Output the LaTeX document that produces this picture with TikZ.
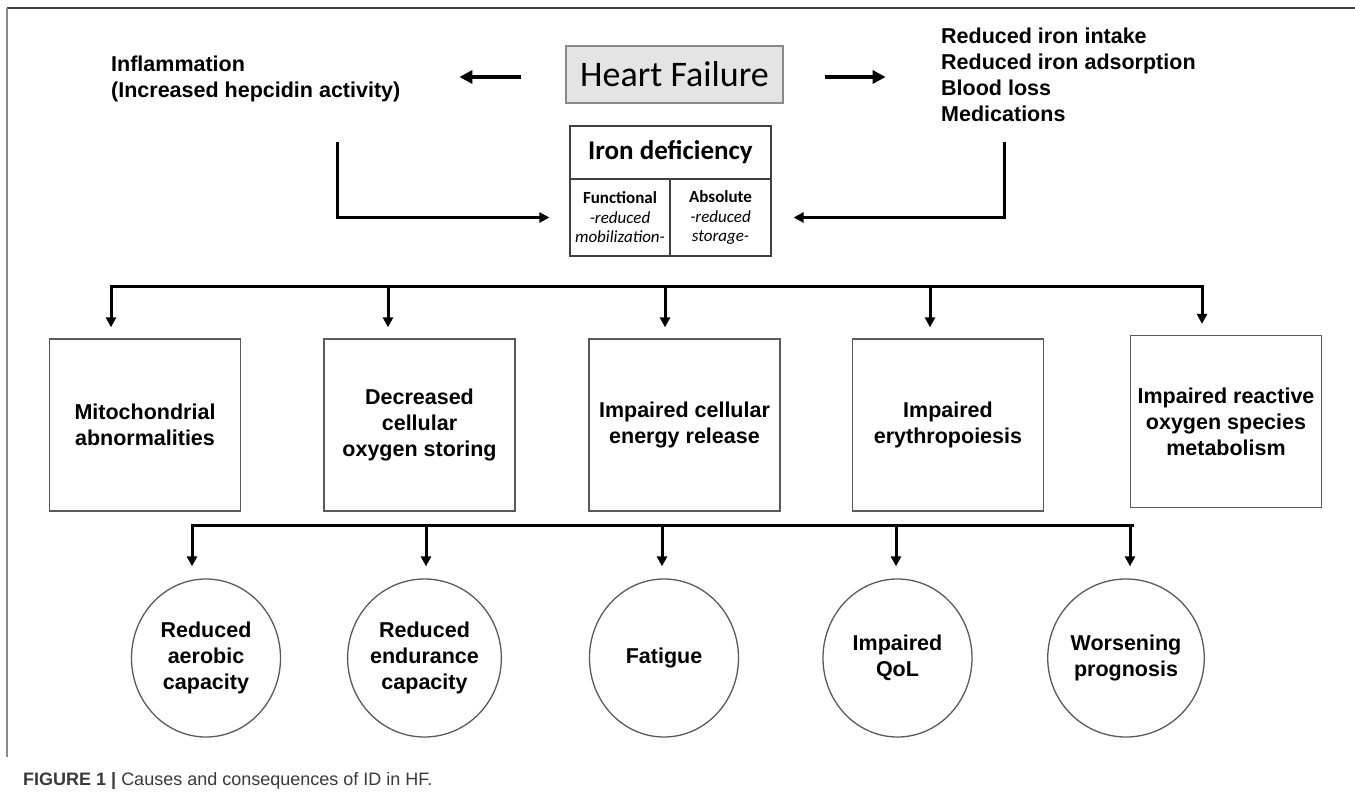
\documentclass[tikz,border=0pt]{standalone}
\usepackage{fontspec}
\setmainfont{Liberation Sans}
\newfontfamily\calibri{Carlito}
\usetikzlibrary{arrows.meta,shapes.geometric}
\definecolor{hfgray}{HTML}{E4E4E4}
\definecolor{edge}{HTML}{5A5A5A}
\definecolor{framedark}{HTML}{404040}
\definecolor{framelight}{HTML}{8A8A8A}
\definecolor{captext}{HTML}{3A3A3A}

\begin{document}
\begin{tikzpicture}[x=1pt,y=-1pt,every node/.style={inner sep=0pt},
  plain/.style={font=\bfseries\fontsize{21.5}{26}\selectfont},
  effect/.style={plain,draw=edge,line width=1.3pt,minimum width=191pt,minimum height=172pt,align=center},
  outcome/.style={plain,ellipse,draw=edge,line width=1.3pt,minimum width=149pt,minimum height=158pt,align=center},
  cell/.style={draw=framedark,line width=1.2pt,font=\calibri\fontsize{17}{19.5}\selectfont,align=center,minimum height=77pt},
  link/.style={line width=3pt,-{Triangle[length=10pt,width=10pt]}},
  bus/.style={line width=3pt,line cap=rect},
  bigarrow/.style={line width=4.5pt,-{Triangle[length=13pt,width=13pt]}}]
  \useasboundingbox (0,0) rectangle (1355,808);

  % Figure frame: top rule and left rule only.
  \draw[framedark,line width=2pt] (7,8) -- (1355,8);
  \draw[framelight,line width=2pt] (7,8) -- (7,757);

  % Heart failure and its two groups of causes.
  \node[draw=framelight,fill=hfgray,line width=1.2pt,minimum width=217pt,minimum height=57pt,
        font=\calibri\fontsize{36}{40}\selectfont] (hf) at (674.5,74.5) {Heart Failure};
  \node[plain,anchor=west,align=left] (inflam) at (111,78.5) {Inflammation\\(Increased hepcidin activity)};
  \node[plain,anchor=west,align=left] (causes) at (941,75) {Reduced iron intake\\Reduced iron adsorption\\Blood loss\\Medications};
  \draw[bigarrow] ([xshift=-44pt,yshift=-2.5pt]hf.west) -- ++(-62,0);
  \draw[bigarrow] ([xshift=41pt,yshift=-2.5pt]hf.east) -- ++(61,0);

  % Iron deficiency: one header cell over two type cells.
  \node[draw=framedark,line width=1.2pt,minimum width=201pt,minimum height=53pt,
        font=\calibri\bfseries\fontsize{27}{30}\selectfont] (idtop) at (670.5,152.5) {Iron deficiency};
  \node[cell,minimum width=100pt] (idfun) at (620,217.5) {\textbf{Functional}\\\textit{-reduced}\\\textit{mobilization-}};
  \node[cell,minimum width=101pt] (idabs) at (720.5,217.5) {\textbf{Absolute}\\\textit{-reduced}\\\textit{storage-}};

  \coordinate (inL) at (337,142);
  \coordinate (inR) at (1004,142);
  \draw[link] (inL) |- ([xshift=-20pt]idfun.west);
  \draw[link] (inR) |- ([xshift=22pt]idabs.east);

  % Cellular effects of iron deficiency.
  \foreach \n/\x/\y/\txt in {m1/145/425/{Mitochondrial\\abnormalities},
      m2/419.5/425/{Decreased\\cellular\\oxygen storing},
      m3/684.5/425/{Impaired cellular\\energy release},
      m4/948/425/{Impaired\\erythropoiesis},
      m5/1226/421.5/{Impaired reactive\\oxygen species\\metabolism}} {
    \node[effect] (\n) at (\x,\y) {\txt};
  }
  \draw[bus] (111,286) -- (1202,286);
  \foreach \x/\n in {111/m1,388/m2,665/m3,930/m4,1202/m5}
    \draw[link,shorten >=11pt] (\x,286) -- (\x,286 |- \n.north);

  % Clinical consequences.
  \foreach \n/\x/\txt in {o1/206/{Reduced\\aerobic\\capacity},
      o2/424.5/{Reduced\\endurance\\capacity},
      o3/664/{Fatigue},
      o4/897.5/{Impaired\\QoL},
      o5/1126/{Worsening\\prognosis}} {
    \node[outcome] (\n) at (\x,658) {\txt};
  }
  \draw[bus] (192,525) -- (1132,525);
  \foreach \x/\n in {192/o1,426/o2,662/o3,896/o4,1130/o5}
    \draw[link,shorten >=12pt] (\x,525) -- (\x,525 |- \n.north);

  \node[anchor=base west,font=\fontsize{18}{20}\selectfont,text=captext] (caption) at (23,785)
    {\textbf{FIGURE 1 |} Causes and consequences of ID in HF.};
\end{tikzpicture}
\end{document}
